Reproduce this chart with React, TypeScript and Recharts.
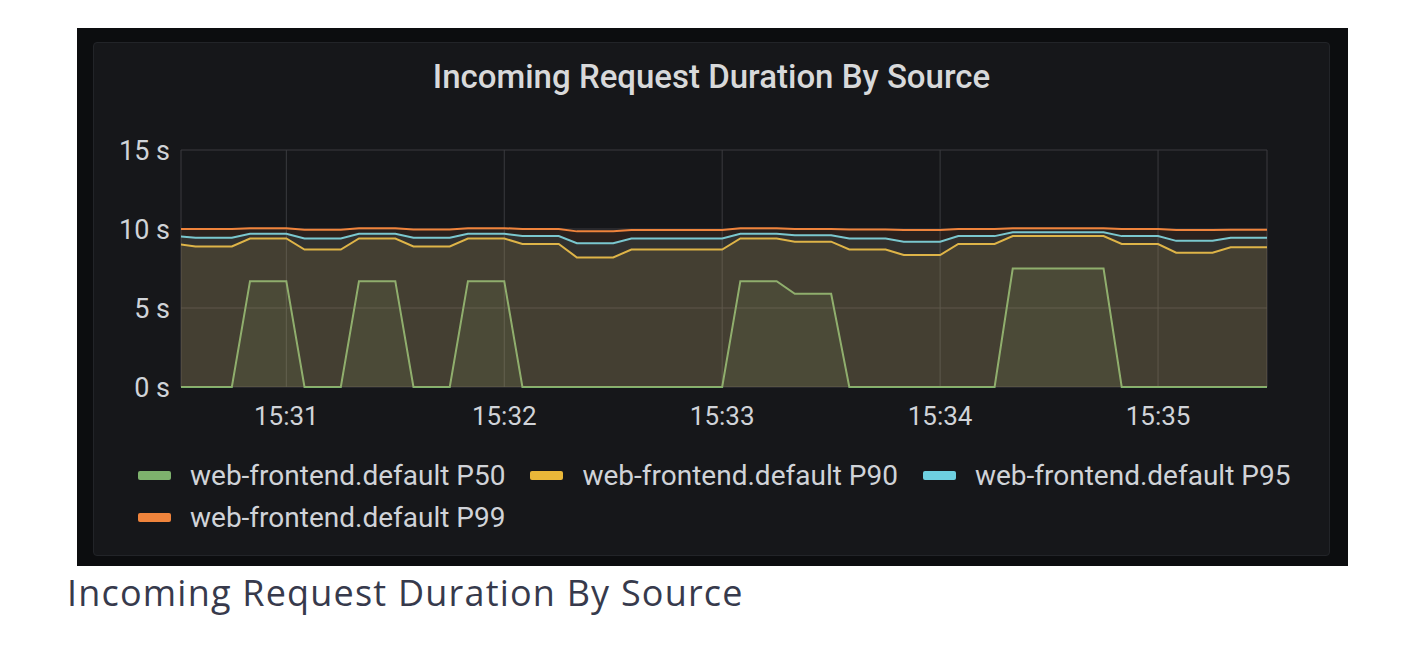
import React from 'react';
import {
  ComposedChart,
  Area,
  XAxis,
  YAxis,
  CartesianGrid,
  Legend,
} from 'recharts';

// samples every 5 s starting at 15:30:30
const START_SEC = 15 * 3600 + 30 * 60 + 30;
const STEP_SEC = 5;

const p50 = [
  0, 0, 0, 0, 6.7, 6.7, 6.7, 0, 0, 0, 6.7, 6.7, 6.7, 0, 0, 0, 6.7, 6.7, 6.7, 0,
  0, 0, 0, 0, 0, 0, 0, 0, 0, 0, 0, 6.7, 6.7, 6.7, 5.9, 5.9, 5.9, 0, 0, 0,
  0, 0, 0, 0, 0, 0, 7.5, 7.5, 7.5, 7.5, 7.5, 7.5, 0, 0, 0, 0, 0, 0, 0, 0, 0,
];
const p90 = [
  9.05, 8.9, 8.9, 8.9, 9.4, 9.4, 9.4, 8.7, 8.7, 8.7, 9.4, 9.4, 9.4, 8.9, 8.9, 8.9,
  9.4, 9.4, 9.4, 9.05, 9.05, 9.05, 8.2, 8.2, 8.2, 8.7, 8.7, 8.7, 8.7, 8.7, 8.7,
  9.4, 9.4, 9.4, 9.2, 9.2, 9.2, 8.7, 8.7, 8.7, 8.35, 8.35, 8.35, 9.05, 9.05, 9.05,
  9.55, 9.55, 9.55, 9.55, 9.55, 9.55, 9.05, 9.05, 9.05, 8.5, 8.5, 8.5, 8.85, 8.85, 8.85,
];
const p95 = [
  9.55, 9.45, 9.45, 9.45, 9.7, 9.7, 9.7, 9.4, 9.4, 9.4, 9.7, 9.7, 9.7, 9.45, 9.45, 9.45,
  9.7, 9.7, 9.7, 9.55, 9.55, 9.55, 9.1, 9.1, 9.1, 9.4, 9.4, 9.4, 9.4, 9.4, 9.4,
  9.7, 9.7, 9.7, 9.6, 9.6, 9.6, 9.4, 9.4, 9.4, 9.2, 9.2, 9.2, 9.55, 9.55, 9.55,
  9.8, 9.8, 9.8, 9.8, 9.8, 9.8, 9.55, 9.55, 9.55, 9.25, 9.25, 9.25, 9.45, 9.45, 9.45,
];
const p99 = [
  10.0, 10.0, 10.0, 10.0, 10.05, 10.05, 10.05, 9.95, 9.95, 9.95, 10.05, 10.05, 10.05,
  9.97, 9.97, 9.97, 10.05, 10.05, 10.05, 10.0, 10.0, 10.0, 9.85, 9.85, 9.85,
  9.93, 9.93, 9.93, 9.93, 9.93, 9.93, 10.05, 10.05, 10.05, 10.0, 10.0, 10.0,
  9.97, 9.97, 9.97, 9.93, 9.93, 9.93, 10.0, 10.0, 10.0,
  10.05, 10.05, 10.05, 10.05, 10.05, 10.05, 10.0, 10.0, 10.0, 9.93, 9.93, 9.93, 9.95, 9.95, 9.95,
];

const xTicks = ['15:31', '15:32', '15:33', '15:34', '15:35'];
const yTicks = [0, 5, 10, 15];

const series = [
  { key: 'p50', name: 'web-frontend.default P50', color: '#7EB26D' },
  { key: 'p90', name: 'web-frontend.default P90', color: '#EAB839' },
  { key: 'p95', name: 'web-frontend.default P95', color: '#6ED0E0' },
  { key: 'p99', name: 'web-frontend.default P99', color: '#EF843C' },
];

const toSec = (hhmm: string) => {
  const [h, m] = hhmm.split(':').map(Number);
  return h * 3600 + m * 60;
};
const fmtTime = (s: number) => {
  const h = Math.floor(s / 3600);
  const m = Math.floor((s % 3600) / 60);
  return `${h}:${String(m).padStart(2, '0')}`;
};

const data = p50.map((v, i) => ({
  t: START_SEC + i * STEP_SEC,
  p50: v,
  p90: p90[i],
  p95: p95[i],
  p99: p99[i],
}));

const FONT = 'Roboto, "Noto Sans", sans-serif';
const TEXT = '#d0d3d8';

const renderLegend = () => (
  <div style={{ display: 'flex', flexWrap: 'wrap', columnGap: 25, width: 1200 }}>
    {series.map((s) => (
      <div key={s.key} style={{ display: 'flex', alignItems: 'center', height: 42 }}>
        <span
          style={{
            display: 'inline-block',
            width: 33,
            height: 9,
            borderRadius: 2,
            background: s.color,
            marginRight: 19,
          }}
        />
        <span style={{ fontFamily: FONT, fontSize: 28, color: TEXT, whiteSpace: 'nowrap' }}>
          {s.name}
        </span>
      </div>
    ))}
  </div>
);

export default function App() {
  return (
    <div style={{ position: 'absolute', left: 0, top: 0, width: 1420, height: 650, background: '#ffffff' }}>
      <div style={{ position: 'absolute', left: 77, top: 28, width: 1271, height: 538, background: '#0c0d0f' }} />
      <div
        style={{
          position: 'absolute',
          left: 93,
          top: 42,
          width: 1235,
          height: 512,
          background: '#16171a',
          border: '1px solid #222428',
          borderRadius: 4,
        }}
      />
      <div
        style={{
          position: 'absolute',
          left: 93,
          top: 56,
          width: 1237,
          textAlign: 'center',
          fontFamily: FONT,
          fontWeight: 500,
          fontSize: 33,
          lineHeight: '42px',
          color: '#d8d9da',
        }}
      >
        Incoming Request Duration By Source
      </div>
      <div style={{ position: 'absolute', left: 93, top: 42 }}>
        <ComposedChart
          width={1237}
          height={514}
          data={data}
          margin={{ top: 108, left: 8, right: 63, bottom: 129 }}
        >
          <CartesianGrid stroke="#3a3b3f" strokeWidth={1} />
          <XAxis
            dataKey="t"
            type="number"
            domain={[START_SEC + 1, START_SEC + 300]}
            allowDataOverflow
            ticks={xTicks.map(toSec)}
            tickFormatter={fmtTime}
            axisLine={false}
            tickLine={false}
            tickSize={0}
            tickMargin={20}
            height={40}
            tick={{ fill: TEXT, fontSize: 26, fontFamily: FONT }}
          />
          <YAxis
            type="number"
            domain={[0, 15]}
            ticks={yTicks}
            tickFormatter={(v: number) => `${v} s`}
            axisLine={false}
            tickLine={false}
            tickSize={0}
            tickMargin={11}
            width={80}
            tick={{ fill: TEXT, fontSize: 27, fontFamily: FONT }}
          />
          {series.map((s) => (
            <Area
              key={s.key}
              type="linear"
              dataKey={s.key}
              name={s.name}
              stroke={s.color}
              strokeWidth={2}
              fill={s.color}
              fillOpacity={0.1}
              dot={false}
              activeDot={false}
              isAnimationActive={false}
            />
          ))}
          <Legend
            layout="horizontal"
            verticalAlign="middle"
            align="center"
            content={renderLegend}
            wrapperStyle={{ left: 45, top: 412, width: 1200 }}
          />
        </ComposedChart>
      </div>
      <div
        style={{
          position: 'absolute',
          left: 67,
          top: 569,
          fontFamily: '"Open Sans", sans-serif',
          fontSize: 36,
          letterSpacing: 1.2,
          lineHeight: '48px',
          color: '#373a4c',
          whiteSpace: 'nowrap',
        }}
      >
        Incoming Request Duration By Source
      </div>
    </div>
  );
}
